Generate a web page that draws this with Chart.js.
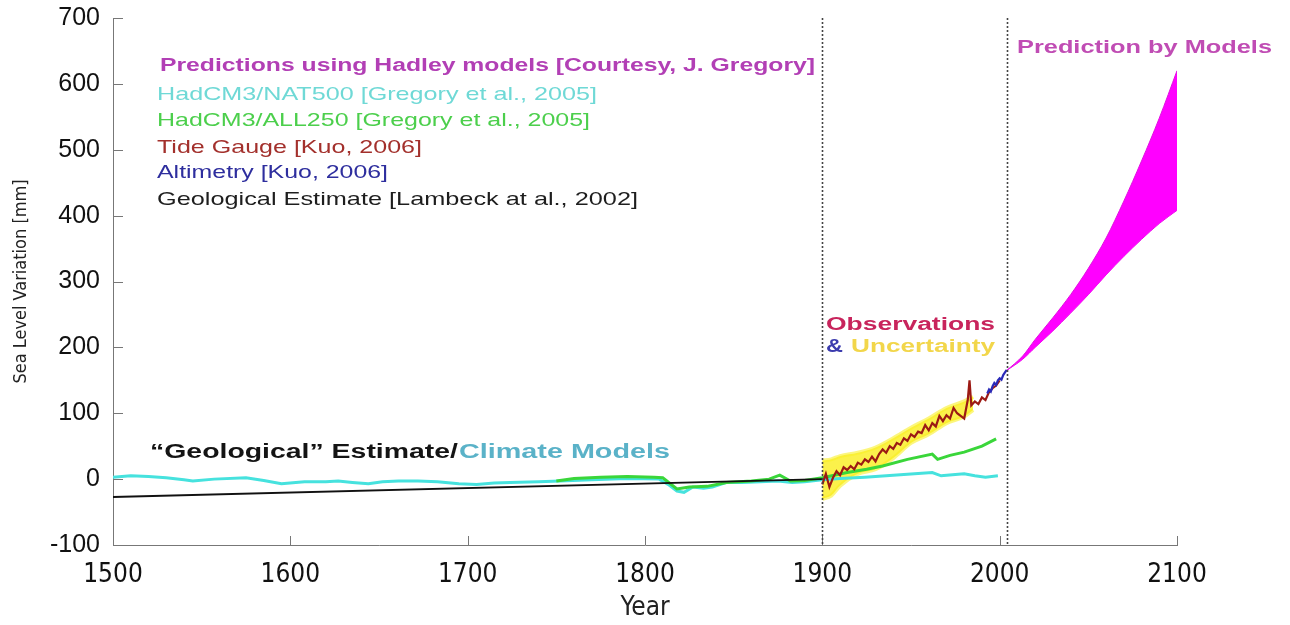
<!DOCTYPE html>
<html>
<head>
<meta charset="utf-8">
<title>Sea Level Variation</title>
<script src="https://cdn.jsdelivr.net/npm/chart.js@4.4.1/dist/chart.umd.min.js"></script>
<style>
  html, body { margin: 0; padding: 0; background: #fff; }
  #wrap { width: 1290px; height: 625px; }
</style>
</head>
<body>
<div id="wrap"><canvas id="seaChart" width="1290" height="625"></canvas></div>
<script>
// Axis ticks
const xTicks = [1500, 1600, 1700, 1800, 1900, 2000, 2100];
const yTicks = [-100, 0, 100, 200, 300, 400, 500, 600, 700];
const dividerYears = [1900, 2004];

// Geological estimate [Lambeck et al., 2002]
const geoYears = [1500, 1900];
const geoValues = [-27, 0];

// HadCM3/NAT500
const natYears = [1500, 1510, 1520, 1530, 1540, 1545, 1557, 1575, 1585, 1595, 1608, 1620, 1627, 1635, 1644,
  1652, 1661, 1672, 1683, 1695, 1705, 1715, 1724, 1740, 1752, 1770, 1790, 1808, 1813, 1818, 1822, 1827,
  1833, 1838, 1846, 1855, 1865, 1875, 1883, 1890, 1900, 1910, 1924, 1940, 1952, 1962, 1967, 1975, 1980,
  1986, 1992, 1999];
const natValues = [3, 5, 4, 2, -1, -3, 0, 2, -2, -7, -4, -4, -3, -5, -7,
  -4, -3, -3, -4, -7, -8, -6, -5, -4, -3, -1, 1, 0, -8, -18, -20, -12,
  -14, -12, -5, -5, -4, -3, -5, -4, -1, 1, 3, 6, 8, 10, 5, 7, 8,
  5, 3, 5];

// HadCM3/ALL250
const allYears = [1750, 1760, 1775, 1790, 1805, 1810, 1818, 1825, 1835, 1846, 1860, 1870, 1876, 1882, 1890,
  1900, 1914, 1925, 1934, 1948, 1962, 1965, 1972, 1980, 1990, 1998];
const allValues = [-3, 1, 3, 4, 3, 2, -15, -12, -11, -5, -3, 0, 6, -3, -2,
  2, 10, 15, 20, 30, 38, 30, 36, 41, 50, 61];

// Tide gauge [Kuo, 2006]
const tideYears = [1900, 1902, 1904, 1906, 1908, 1910, 1912, 1914, 1916, 1918, 1920, 1922, 1924, 1926, 1928,
  1930, 1932, 1934, 1936, 1938, 1940, 1942, 1944, 1946, 1948, 1950, 1952, 1954, 1956, 1958, 1960, 1962,
  1964, 1966, 1968, 1970, 1972, 1974, 1976, 1978, 1980, 1982, 1983, 1984, 1986, 1988, 1990, 1992, 1994,
  1996, 1998, 2000];
const tideValues = [-8, 8, -12, 2, 12, 6, 18, 14, 20, 15, 25, 22, 30, 26, 34,
  27, 38, 45, 40, 50, 46, 55, 52, 62, 58, 68, 64, 72, 70, 82, 74, 85,
  80, 96, 88, 97, 92, 108, 100, 96, 92, 120, 150, 112, 118, 114, 124, 120, 132,
  138, 142, 150];

// Uncertainty band around the tide gauge record
const uncYears = [1900, 1905, 1910, 1920, 1930, 1940, 1950, 1960, 1970, 1980, 1985];
const uncUpper = [28, 30, 35, 40, 48, 62, 78, 92, 108, 118, 125];
const uncLower = [-30, -25, -10, 8, 15, 32, 55, 68, 85, 95, 105];

// Altimetry [Kuo, 2006]
const altYears = [1993, 1994, 1995, 1996, 1997, 1998, 1999, 2000, 2001, 2002, 2003, 2004];
const altValues = [130, 136, 133, 141, 146, 143, 150, 153, 151, 158, 162, 166];

// Prediction by models (Hadley)
const predYears = [2004, 2013, 2020, 2030, 2040, 2050, 2060, 2070, 2080, 2090, 2100];
const predUpper = [165, 187, 212, 245, 280, 320, 366, 422, 483, 548, 620];
const predLower = [165, 182, 200, 225, 252, 280, 310, 338, 364, 388, 408];

const pts = (xs, ys) => xs.map((x, i) => ({ x: x, y: ys[i] }));

const axisColor = '#777';
const sansFont = "'Liberation Sans', Arial, sans-serif";
const narrowFont = "'Liberation Sans Narrow', 'DejaVu Sans Condensed', 'Liberation Sans', sans-serif";

// draw a line of text stretched horizontally to a given width
function fitText(ctx, text, x, y, width, font, color) {
    ctx.font = font;
    const w = ctx.measureText(text).width;
    ctx.save();
    ctx.translate(x, y);
    ctx.scale(width / w, 1);
    ctx.fillStyle = color;
    ctx.fillText(text, 0, 0);
    ctx.restore();
}

const extrasPlugin = {
    id: 'extras',
    afterDraw(chart) {
        const ctx = chart.ctx;
        const xs = chart.scales.x;
        const ys = chart.scales.y;
        const area = chart.chartArea;
        ctx.save();

        // inward tick marks
        ctx.strokeStyle = axisColor;
        ctx.lineWidth = 1;
        ctx.beginPath();
        yTicks.forEach(v => {
            const py = Math.round(ys.getPixelForValue(v)) + 0.5;
            ctx.moveTo(area.left, py);
            ctx.lineTo(area.left + 10, py);
        });
        xTicks.forEach(v => {
            const px = Math.round(xs.getPixelForValue(v)) + 0.5;
            ctx.moveTo(px, area.bottom);
            ctx.lineTo(px, area.bottom - 9);
        });
        ctx.stroke();

        // period dividers
        ctx.strokeStyle = '#444';
        ctx.lineWidth = 1.6;
        ctx.setLineDash([2, 2]);
        ctx.beginPath();
        dividerYears.forEach(v => {
            const px = Math.round(xs.getPixelForValue(v)) + 0.5;
            ctx.moveTo(px, area.top);
            ctx.lineTo(px, area.bottom);
        });
        ctx.stroke();
        ctx.setLineDash([]);

        // annotations
        ctx.textBaseline = 'middle';
        ctx.textAlign = 'left';
        const bold = 'bold 18px ' + sansFont;
        const reg = '19px ' + sansFont;
        fitText(ctx, 'Predictions using Hadley models [Courtesy, J. Gregory]', 160, 66, 655, bold, '#b23fb5');
        fitText(ctx, 'HadCM3/NAT500 [Gregory et al., 2005]', 157, 95, 440, reg, '#6fd9d6');
        fitText(ctx, 'HadCM3/ALL250 [Gregory et al., 2005]', 157, 121, 433, reg, '#4ccf4c');
        fitText(ctx, 'Tide Gauge [Kuo, 2006]', 157, 148, 265, reg, '#a3302c');
        fitText(ctx, 'Altimetry [Kuo, 2006]', 157, 173, 231, reg, '#2e2e9e');
        fitText(ctx, 'Geological Estimate [Lambeck at al., 2002]', 157, 200, 481, reg, '#1e1e1e');

        fitText(ctx, 'Prediction by Models', 1017, 48, 255, bold, '#c04cb4');
        fitText(ctx, 'Observations', 826, 325, 169, bold, '#c8245c');
        fitText(ctx, '&', 826, 347, 17, bold, '#3c3cae');
        fitText(ctx, 'Uncertainty', 851, 347, 144, bold, '#f2d64a');

        const big = 'bold 20px ' + sansFont;
        fitText(ctx, '\u201CGeological\u201D Estimate/', 150, 452, 308, big, '#141414');
        fitText(ctx, 'Climate Models', 459, 452, 211, big, '#5ab2c8');

        ctx.restore();
    }
};

new Chart(document.getElementById('seaChart'), {
    type: 'line',
    data: {
        datasets: [
            { label: 'Altimetry', data: pts(altYears, altValues), borderColor: '#2a2ab8', borderWidth: 2.2, order: 1 },
            { label: 'Tide Gauge', data: pts(tideYears, tideValues), borderColor: '#9c1a14', borderWidth: 2.2, order: 2 },
            { label: 'Geological Estimate', data: pts(geoYears, geoValues), borderColor: '#111', borderWidth: 2, order: 3 },
            { label: 'HadCM3/ALL250', data: pts(allYears, allValues), borderColor: '#3ad63a', borderWidth: 3, order: 4 },
            { label: 'HadCM3/NAT500', data: pts(natYears, natValues), borderColor: '#46e2de', borderWidth: 3, order: 5 },
            { label: 'Uncertainty upper', data: pts(uncYears, uncUpper), borderColor: 'rgba(250,240,40,0.6)', borderWidth: 4,
              backgroundColor: 'rgba(250,238,30,0.8)', fill: '+1', cubicInterpolationMode: 'monotone', order: 6 },
            { label: 'Uncertainty lower', data: pts(uncYears, uncLower), borderColor: 'rgba(250,240,40,0.6)', borderWidth: 4,
              cubicInterpolationMode: 'monotone', order: 7 },
            { label: 'Prediction upper', data: pts(predYears, predUpper), borderColor: '#e010e0', borderWidth: 1,
              backgroundColor: '#ff00ff', fill: '+1', cubicInterpolationMode: 'monotone', order: 8 },
            { label: 'Prediction lower', data: pts(predYears, predLower), borderColor: '#e010e0', borderWidth: 1,
              cubicInterpolationMode: 'monotone', order: 9 }
        ]
    },
    options: {
        responsive: false,
        animation: false,
        events: [],
        elements: { point: { radius: 0 }, line: { tension: 0 } },
        layout: { padding: { top: 18, right: 113, left: 0, bottom: 0 } },
        plugins: { legend: { display: false }, tooltip: { enabled: false } },
        scales: {
            x: {
                type: 'linear',
                min: 1500,
                max: 2100,
                afterBuildTicks: s => { s.ticks = xTicks.map(v => ({ value: v })); },
                afterFit: s => { s.height = 80; },
                grid: { drawOnChartArea: false, drawTicks: false },
                border: { color: axisColor, width: 1 },
                ticks: {
                    autoSkip: false, maxRotation: 0, padding: 15, color: '#111',
                    font: { family: narrowFont, size: 26 },
                    callback: v => String(v)
                },
                title: {
                    display: true, text: 'Year', color: '#222',
                    font: { family: narrowFont, size: 26, lineHeight: 1 },
                    padding: { top: 0, bottom: 4 }
                }
            },
            y: {
                min: -100,
                max: 700,
                afterBuildTicks: s => { s.ticks = yTicks.map(v => ({ value: v })); },
                afterFit: s => { s.width = 113; s.paddingTop = 0; s.paddingBottom = 0; },
                grid: { drawOnChartArea: false, drawTicks: false },
                border: { color: axisColor, width: 1 },
                ticks: {
                    padding: 13, color: '#111',
                    font: { family: sansFont, size: 25 },
                    callback: v => String(v)
                },
                title: {
                    display: true, text: 'Sea Level Variation [mm]', color: '#222',
                    font: { family: narrowFont, size: 18, lineHeight: 1 },
                    padding: { top: 12, bottom: 0 }
                }
            }
        }
    },
    plugins: [extrasPlugin]
});
</script>
</body>
</html>
